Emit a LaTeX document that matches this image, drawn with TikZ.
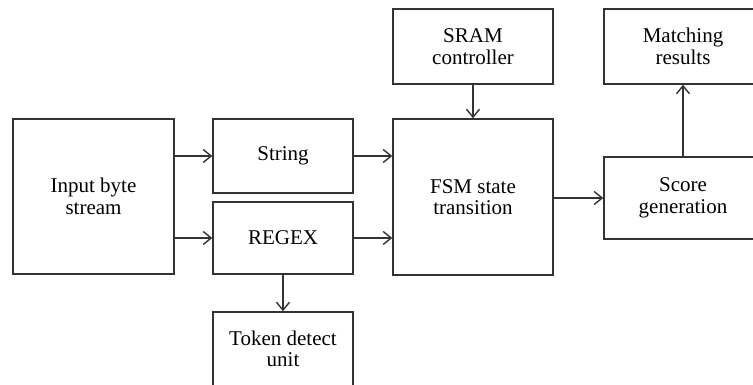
\documentclass[tikz,border=0pt]{standalone}
\usepackage{fontspec}
\setmainfont{Liberation Serif}
\usetikzlibrary{arrows.meta}

\tikzset{
  blk/.style={draw=black!80, line width=1.4pt, align=center, inner sep=0pt,
    font=\fontsize{21}{21.5}\selectfont},
  arr/.style={draw=black!80, line width=1.4pt, -{Straight Barb[length=8pt,width=13pt]}}
}

\begin{document}
\begin{tikzpicture}[x=1pt,y=-1pt]
\useasboundingbox (0,0) rectangle (753,385);
\clip (0,0) rectangle (753,385);

\node[blk, minimum width=161pt, minimum height=155pt] (inp) at (93.5,196.5) {Input byte\\stream};
\node[blk, minimum width=140pt, minimum height=74pt] (str) at (283,156) {String};
\node[blk, minimum width=140pt, minimum height=72pt] (rgx) at (283,238) {REGEX};
\node[blk, minimum width=140pt, minimum height=74pt] (tok) at (283,349) {Token detect\\unit};

\node[blk, minimum width=160pt, minimum height=75pt] (sram) at (473,46.5) {SRAM\\controller};
\node[blk, minimum width=160pt, minimum height=156pt] (fsm) at (473,197) {FSM state\\transition};

\node[blk, minimum width=158pt, minimum height=75pt] (match) at (683,46.5) {Matching\\results};
\node[blk, minimum width=158pt, minimum height=82pt] (score) at (683,198) {Score\\generation};

% inputs
\draw[arr] (inp.east |- str) -- (str.west);
\draw[arr] (inp.east |- rgx) -- (rgx.west);
\draw[arr] (str.east) -- (fsm.west |- str);
\draw[arr] (rgx.east) -- (fsm.west |- rgx);
\draw[arr] (rgx.south) -- (tok.north);

% state machine
\draw[arr] (sram.south) -- (fsm.north);
\draw[arr] (fsm.east |- score) -- (score.west);
\draw[arr] (score.north) -- (match.south);
\end{tikzpicture}
\end{document}
